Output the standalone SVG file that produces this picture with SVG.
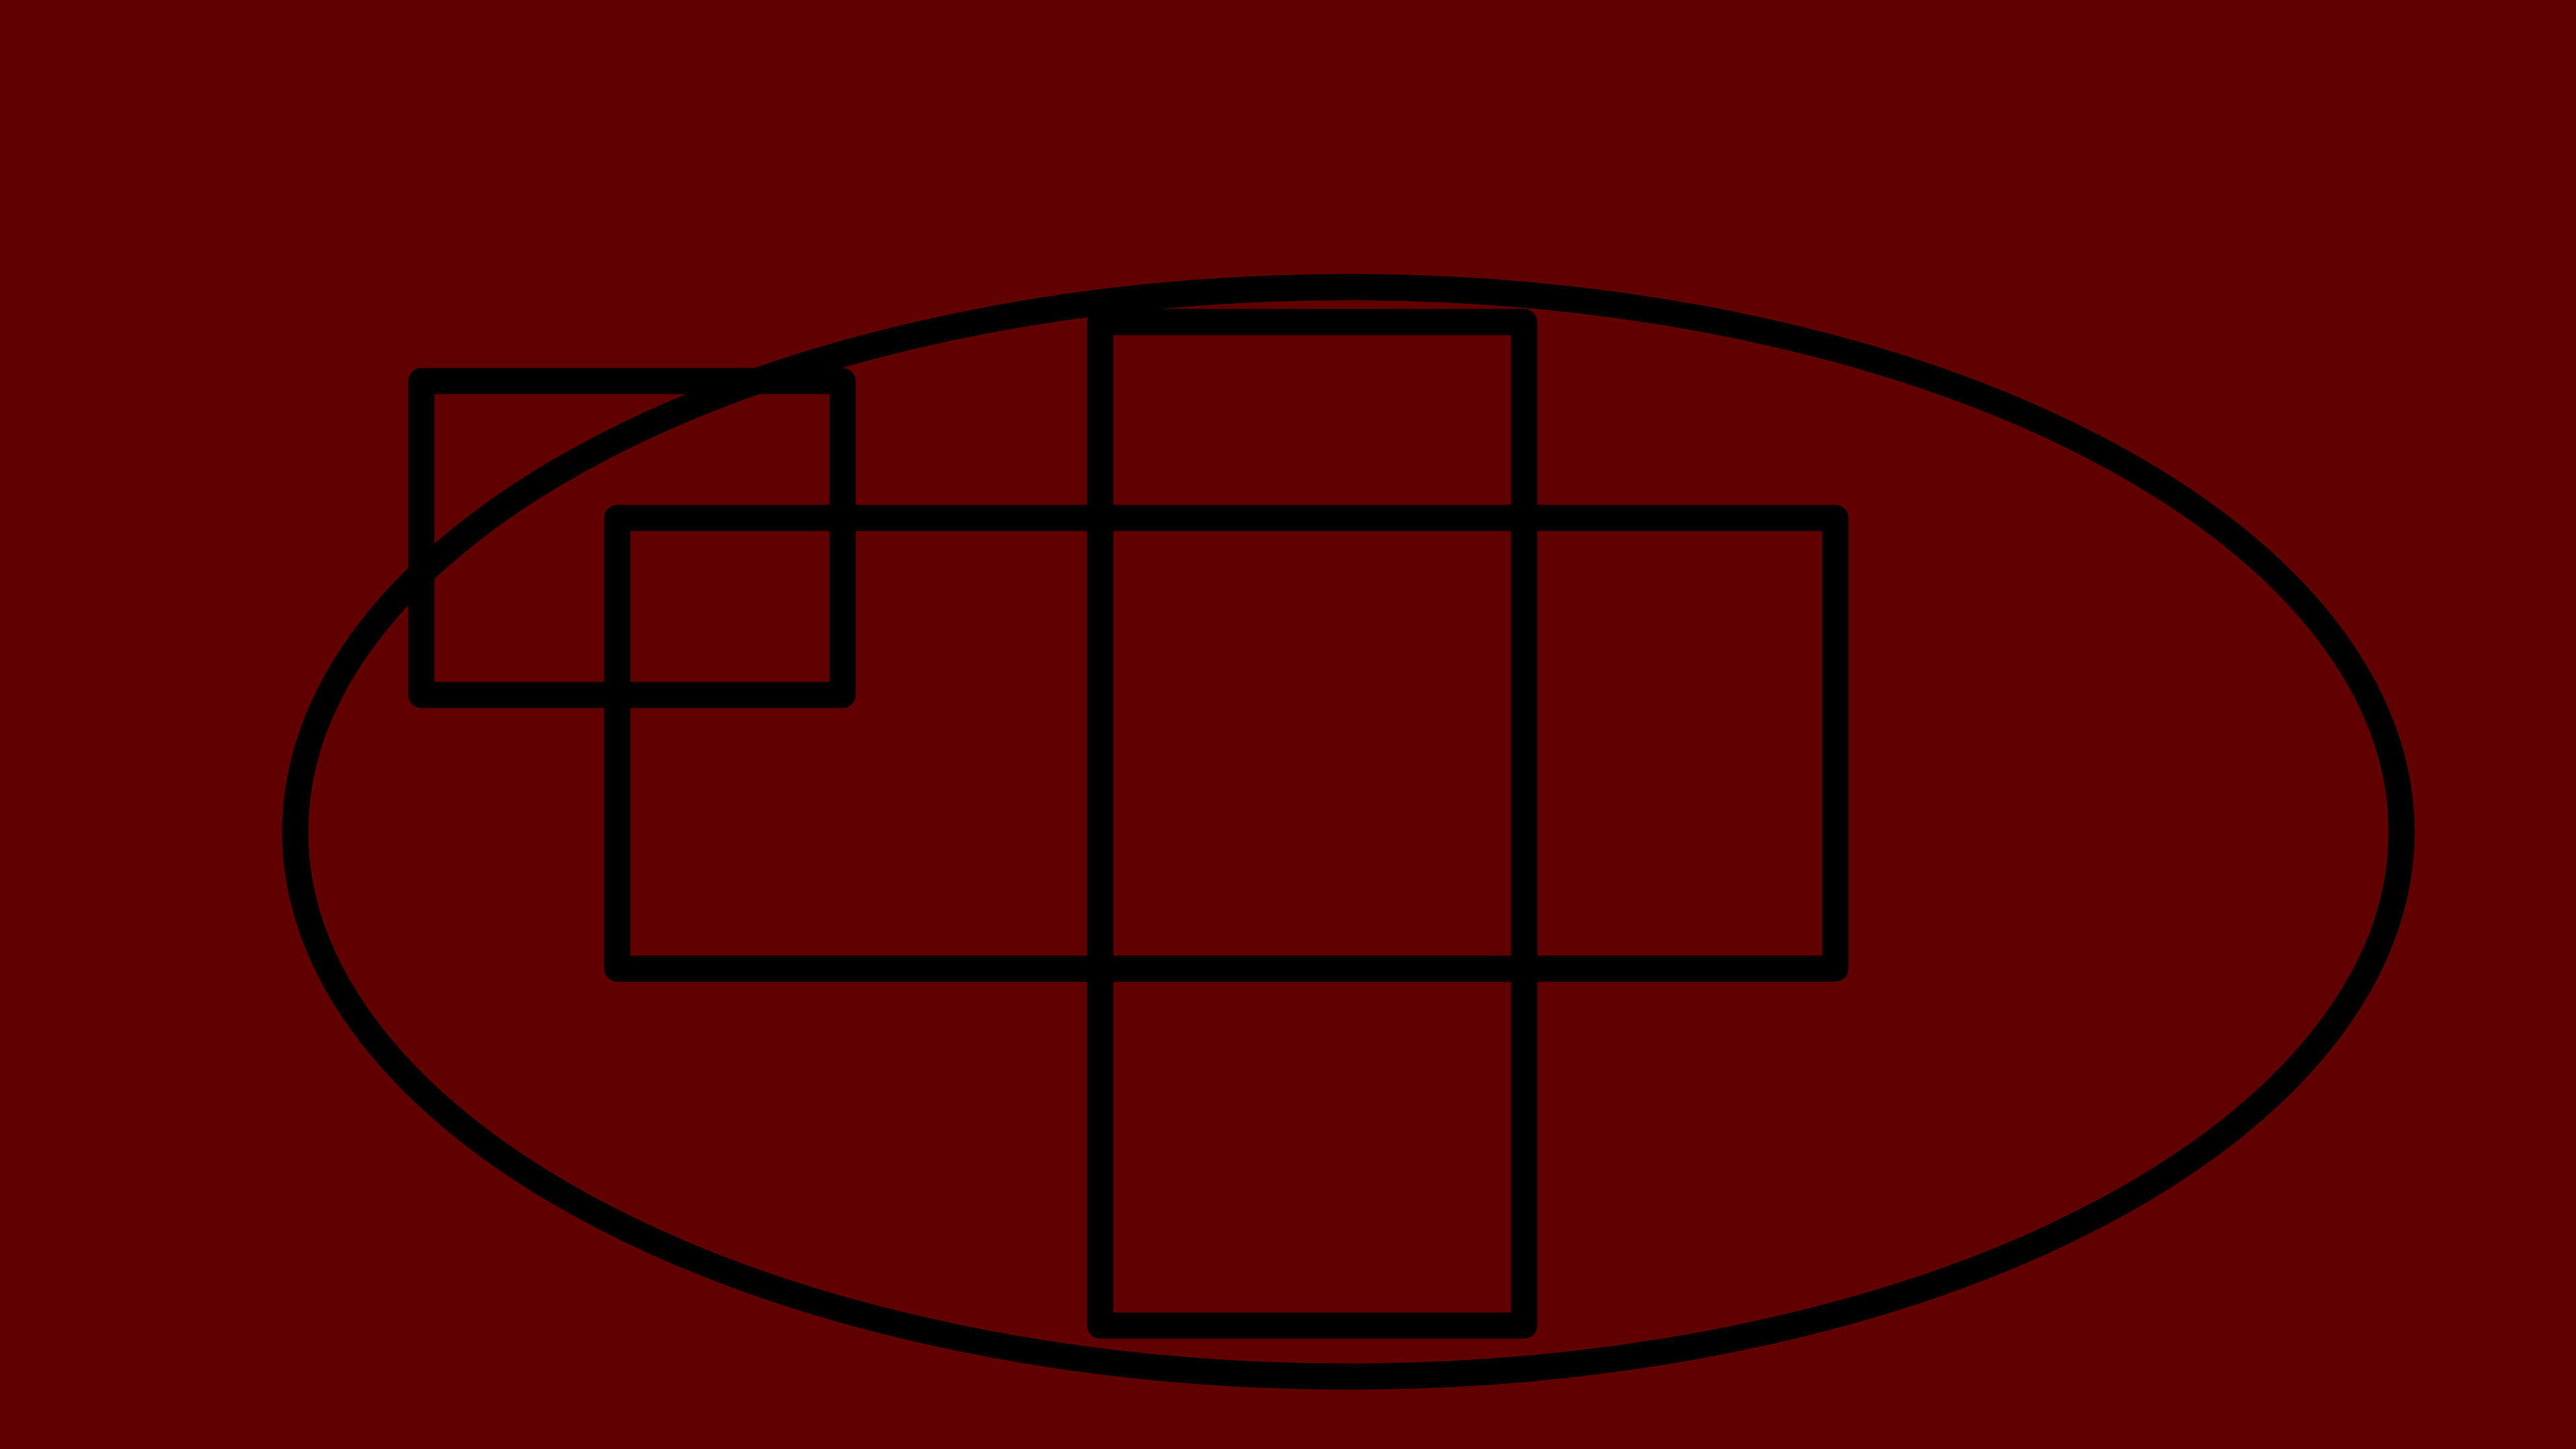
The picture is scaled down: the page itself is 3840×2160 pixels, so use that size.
<svg xmlns="http://www.w3.org/2000/svg" width="3840" height="2160" viewBox="0 0 3840 2160">
  <style>
    .shape { fill: none; stroke: #000000; stroke-width: 39; stroke-linejoin: round; }
  </style>
  <rect x="0" y="0" width="3840" height="2160" fill="#600000"/>
  <g id="ellipse">
    <ellipse class="shape" cx="2010" cy="1240" rx="1570" ry="812"/>
  </g>
  <g id="small-rect">
    <rect class="shape" x="628" y="568" width="628" height="468"/>
  </g>
  <g id="wide-rect">
    <rect class="shape" x="920" y="772" width="1816" height="672"/>
  </g>
  <g id="tall-rect">
    <rect class="shape" x="1640" y="480" width="632" height="1496"/>
  </g>
  <g id="connectors"></g>
</svg>
